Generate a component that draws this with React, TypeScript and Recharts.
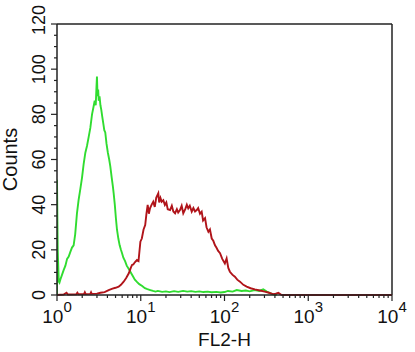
import React from "react";
import { LineChart, Line, XAxis, YAxis, ReferenceLine, Label } from "recharts";

// FL2-H channel (log) -> counts
const greenX = [
  1, 1, 1.02, 1.05, 1.07, 1.1, 1.15, 1.2, 1.26, 1.32, 1.38, 1.44, 1.51, 1.58, 1.65,
  1.73, 1.81, 1.9, 1.99, 2.08, 2.18, 2.28, 2.39, 2.5, 2.62, 2.72, 2.82, 2.9, 2.96, 3.0,
  3.05, 3.1, 3.15, 3.22, 3.3, 3.38, 3.47, 3.57, 3.67, 3.77, 3.9, 4.05, 4.2, 4.33, 4.5,
  4.65, 4.75, 4.9, 5.05, 5.2, 5.4, 5.6, 5.8, 5.97, 6.2, 6.5, 6.8, 7.2, 7.6, 8.0, 8.5,
  9.0, 9.6, 10.4, 11.2, 12, 13, 14, 15, 16, 18, 20, 22, 25, 28, 32, 36, 40, 45, 50, 56,
  63, 70, 80, 90, 100, 110, 125, 140, 160, 180, 200, 230, 260, 290, 320, 350, 380, 420,
];
const greenCounts = [
  0, 51, 20, 6, 5.5, 7, 9, 11, 13, 16, 17, 19, 21, 22, 27,
  36, 42, 47, 52, 58, 63, 66, 70, 74, 80, 83, 86, 84, 92, 96.7,
  88, 91, 86, 88, 84, 82, 79, 76, 73, 72, 67, 63, 60, 57, 52,
  48, 45, 40, 34, 29, 25, 22, 20, 18.6, 16.5, 15, 13, 11.5, 10, 8.5, 6.8,
  5.8, 4.8, 4, 3, 2.6, 2.2, 1.8, 1.5, 1.8, 1.4, 1.6, 1.3, 1.7, 1.4, 1.8, 1.5, 1.7, 1.4, 1.6, 1.3,
  1.5, 1.2, 1.4, 1.1, 1.3, 1.8, 1.5, 2.2, 1.8, 2.0, 1.6, 2.2, 1.8, 2.5, 1.5, 0.8, 0.3, 0,
];

const redX = [
  1, 1.2, 1.3, 1.35, 1.7, 1.75, 1.8, 2.1, 2.15, 2.2, 2.5, 2.55, 2.6, 3.0, 3.3, 3.7,
  4.14, 4.6, 5.0, 5.45, 5.8, 6.25, 6.7, 7.2, 7.6, 7.87, 8.15, 8.5, 9.0, 9.4, 9.6, 9.9,
  10.3, 10.8, 11.3, 11.7, 12.1, 12.5, 12.9, 13.5, 14.1, 14.7, 15.3, 16.2, 16.6, 17.2,
  17.8, 18.6, 19.4, 20.2, 21, 22.4, 23.5, 24.5, 25.7, 27, 28, 29.4, 30.8, 32.2, 34,
  35.5, 36.9, 38.5, 40.6, 42.5, 44.5, 46.6, 48.5, 51, 53.4, 55.5, 58.6, 61, 64.2, 67,
  70.4, 73.5, 77, 80, 84, 88.5, 94, 101, 106, 111, 116, 124, 133, 142, 153, 168, 184,
  205, 230, 265, 302, 340, 380, 410, 440, 480, 10000,
];
const redCounts = [
  0, 0.2, 1, 0.2, 0.3, 1, 0.3, 0.4, 1.2, 0.4, 0.5, 1.2, 0.5, 0.6, 1, 1.3,
  2.2, 2.8, 3.2, 3.7, 4.5, 5.9, 7.5, 9.6, 12, 13.3, 13.5, 14.5, 15.5, 15, 18.5, 23.6,
  25, 29, 31, 36, 39.9, 36, 38.4, 40, 41.3, 39, 43, 45, 41, 43,
  41.3, 42, 39.9, 41, 38, 37.6, 39.5, 37, 36.2, 38, 36.5, 37.6, 39.5, 36.2, 38,
  40, 38.4, 39.5, 36.9, 38.5, 37, 37.6, 38.5, 36, 36.9, 33, 34, 30, 28, 29,
  25, 24, 22, 21, 19.5, 18.5, 16, 14, 16.2, 12, 10.3, 9, 8.1, 6.8, 5.9, 4.5, 3.7,
  3.0, 2.5, 2, 1.5, 1, 0.4, 0.6, 1.0, 0, 0,
];

const xMajor = [1, 10, 100, 1000, 10000];
const yTicks = [
  0, 5, 10, 15, 20, 25, 30, 35, 40, 45, 50, 55, 60, 65, 70, 75, 80, 85, 90, 95, 100,
  105, 110, 115, 120,
];

const xTicks = xMajor.flatMap((m, i) =>
  i === xMajor.length - 1 ? [m] : [1, 2, 3, 4, 5, 6, 7, 8, 9].map((k) => m * k)
);

const greenData = greenX.map((x, i) => ({ x, y: greenCounts[i] }));
const redData = redX.map((x, i) => ({ x, y: redCounts[i] }));

const INK = "#111";
const AXIS = "#222";
const FONT = "'Liberation Sans', Arial, sans-serif";

const XTick = ({ x, y, payload }: any) => {
  const lg = Math.log10(payload.value);
  const exp = Math.round(lg);
  const major = Math.abs(lg - exp) < 1e-6;
  return (
    <g>
      <line x1={x} x2={x} y1={y} y2={y + (major ? 6 : 3)} stroke={AXIS} strokeWidth={1.2} />
      {major && (
        <text x={x} y={y + 28} textAnchor="middle" fontSize={19} fill={INK} fontFamily={FONT}>
          <tspan>10</tspan>
          <tspan dy={-11} fontSize={15}>{exp}</tspan>
        </text>
      )}
    </g>
  );
};

const YTick = ({ x, y, payload }: any) => {
  const v = payload.value;
  const major = v % 20 === 0;
  const lx = x - 12;
  const ly = v === 120 ? y - 4 : y;
  return (
    <g>
      <line x1={x} x2={x - (major ? 6 : 3)} y1={y} y2={y} stroke={AXIS} strokeWidth={1.2} />
      {major && (
        <text
          x={lx}
          y={ly}
          transform={`rotate(-90 ${lx} ${ly})`}
          textAnchor="middle"
          fontSize={18}
          fill={INK}
          fontFamily={FONT}
        >
          {v}
        </text>
      )}
    </g>
  );
};

export default function App() {
  return (
    <div style={{ position: "absolute", left: 0, top: 0, background: "#fff" }}>
      <LineChart
        width={415}
        height={352}
        margin={{ top: 24, right: 23, left: 0, bottom: 0 }}
      >
        <XAxis
          dataKey="x"
          type="number"
          scale="log"
          domain={[1, 10000]}
          allowDataOverflow
          ticks={xTicks}
          interval={0}
          tick={<XTick />}
          tickLine={false}
          tickSize={0}
          tickMargin={0}
          height={57}
          axisLine={{ stroke: AXIS, strokeWidth: 1.5 }}
        >
          <Label
            content={({ viewBox }: any) => (
              <text
                x={viewBox.x + viewBox.width / 2}
                y={viewBox.y + 51}
                textAnchor="middle"
                fontSize={19}
                fill={INK}
                fontFamily={FONT}
              >
                FL2-H
              </text>
            )}
          />
        </XAxis>
        <YAxis
          type="number"
          domain={[0, 120]}
          ticks={yTicks}
          interval={0}
          tick={<YTick />}
          tickLine={false}
          tickSize={0}
          tickMargin={0}
          width={57}
          axisLine={{ stroke: AXIS, strokeWidth: 1.5 }}
        >
          <Label
            content={({ viewBox }: any) => {
              const cy = viewBox.y + viewBox.height / 2;
              return (
                <text
                  x={17}
                  y={cy}
                  transform={`rotate(-90 17 ${cy})`}
                  textAnchor="middle"
                  fontSize={20}
                  fill={INK}
                  fontFamily={FONT}
                >
                  Counts
                </text>
              );
            }}
          />
        </YAxis>
        <ReferenceLine y={120} stroke={AXIS} strokeWidth={1.5} />
        <ReferenceLine x={10000} stroke={AXIS} strokeWidth={1.5} />
        <Line
          data={greenData}
          dataKey="y"
          type="linear"
          stroke="#30dc30"
          strokeWidth={1.9}
          dot={false}
          isAnimationActive={false}
        />
        <Line
          data={redData}
          dataKey="y"
          type="linear"
          stroke="#b0141a"
          strokeWidth={1.9}
          dot={false}
          isAnimationActive={false}
        />
      </LineChart>
    </div>
  );
}
